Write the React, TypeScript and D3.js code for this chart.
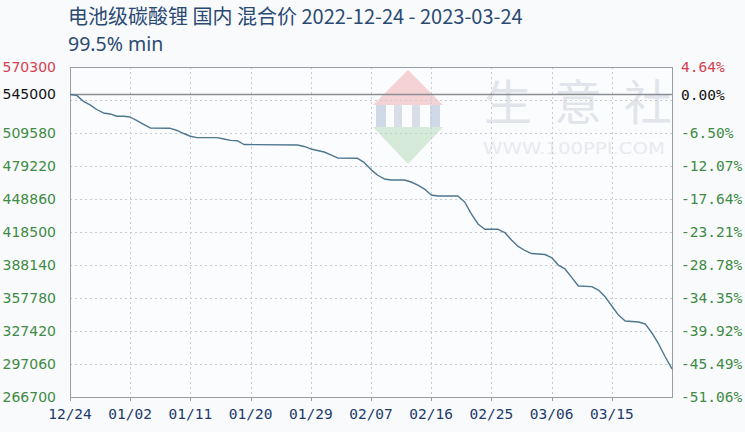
import React from "react";
import * as d3 from "d3";

const title = "电池级碳酸锂 国内 混合价 2022-12-24 - 2023-03-24";
const subtitle = "99.5% min";

const dates = [
  "2022-12-24", "2022-12-25", "2022-12-26", "2022-12-27", "2022-12-28", "2022-12-29", "2022-12-30", "2022-12-31",
  "2023-01-01", "2023-01-02", "2023-01-03", "2023-01-04", "2023-01-05", "2023-01-08", "2023-01-09", "2023-01-10",
  "2023-01-11", "2023-01-12", "2023-01-15", "2023-01-16", "2023-01-17", "2023-01-18", "2023-01-19", "2023-01-27",
  "2023-01-28", "2023-01-29", "2023-01-30", "2023-01-31", "2023-02-01", "2023-02-02", "2023-02-05", "2023-02-06",
  "2023-02-07", "2023-02-08", "2023-02-09", "2023-02-10", "2023-02-12", "2023-02-13", "2023-02-14", "2023-02-15",
  "2023-02-16", "2023-02-17", "2023-02-20", "2023-02-21", "2023-02-22", "2023-02-23", "2023-02-24", "2023-02-26",
  "2023-02-27", "2023-02-28", "2023-03-01", "2023-03-02", "2023-03-03", "2023-03-05", "2023-03-06", "2023-03-07",
  "2023-03-08", "2023-03-09", "2023-03-10", "2023-03-12", "2023-03-13", "2023-03-14", "2023-03-15", "2023-03-16",
  "2023-03-17", "2023-03-19", "2023-03-20", "2023-03-21", "2023-03-22", "2023-03-23", "2023-03-24",
];
const prices = [
  545000, 544200, 538700, 535500, 531200, 528000, 527100, 525000,
  525000, 524300, 520900, 517600, 514200, 513900, 511900, 509100,
  506600, 505300, 505300, 504100, 502800, 502500, 499000, 498500,
  497200, 494900, 493500, 492100, 489400, 486600, 486300, 482300,
  475900, 470700, 467300, 466300, 466300, 464500, 461700, 458000,
  452500, 451600, 451600, 446100, 435100, 425900, 421000, 421000,
  418000, 411100, 405200, 401500, 398700, 397800, 395000, 388100,
  384500, 376700, 368800, 368200, 365100, 359000, 350400, 342100,
  336600, 335700, 333900, 325600, 315500, 303500, 292500,
];

const baseValue = 545000;
const yMax = 570300;
const yMin = 266700;
const yStep = 30360;
const yLabelValues = [570300, 545000, 509580, 479220, 448860, 418500, 388140, 357780, 327420, 297060, 266700];
const xTickLabels = ["12/24", "01/02", "01/11", "01/20", "01/29", "02/07", "02/16", "02/25", "03/06", "03/15"];
const xStart = "2022-12-24";
const xEnd = "2023-03-24";

const W = 745;
const H = 432;
const M = { left: 70, right: 73, top: 67, bottom: 35 };

export default function App() {
  const parse = d3.timeParse("%Y-%m-%d");
  const data = dates.map((d, i) => ({ date: parse(d) as Date, value: prices[i] }));
  const x = d3
    .scaleTime()
    .domain([parse(xStart) as Date, parse(xEnd) as Date])
    .range([M.left, W - M.right]);
  const y = d3.scaleLinear().domain([yMin, yMax]).range([H - M.bottom, M.top]);

  const gridValues = d3.range(0, 11).map((k) => yMin + k * yStep);
  const xTickDates = d3.range(0, xTickLabels.length).map((k) => d3.timeDay.offset(parse(xStart) as Date, k * 9));

  const line = d3
    .line<{ date: Date; value: number }>()
    .x((d) => x(d.date))
    .y((d) => y(d.value));

  const pct = (v: number) => ((v / baseValue - 1) * 100).toFixed(2) + "%";
  const colorFor = (v: number) => (v > baseValue ? "#d6404e" : v === baseValue ? "#111" : "#3f8a44");

  const x0 = M.left;
  const x1 = W - M.right;
  const y0 = M.top;
  const y1 = H - M.bottom;

  // watermark geometry
  const cx = 408;
  const dTop = 70;
  const dBot = 164;
  const dHalf = 35;
  const dMid = (dTop + dBot) / 2;

  return (
    <svg
      width={W}
      height={H}
      style={{ position: "absolute", left: 0, top: 0, display: "block", background: "#f8fafc" }}
    >
      <rect x={0} y={0} width={W} height={H} fill="#f8fafc" />
      <text x={68} y={24} fontFamily="'Noto Sans CJK SC', 'Noto Sans', sans-serif" fontSize={20} fill="#2b4a72">
        {title}
      </text>
      <text x={68} y={51} fontFamily="'Noto Sans', 'Noto Sans CJK SC', sans-serif" fontSize={19.5} fill="#2b4a72">
        {subtitle}
      </text>

      <rect x={x0} y={y0} width={x1 - x0} height={y1 - y0} fill="#fbfcfe" />

      {/* watermark */}
      <g opacity={0.9}>
        <path d={`M${cx},${dTop} L${cx + dHalf},${dMid - 12} L${cx - dHalf},${dMid - 12} Z`} fill="#f5cfd0" />
        <path d={`M${cx - dHalf},${dMid + 10} L${cx + dHalf},${dMid + 10} L${cx},${dBot} Z`} fill="#d3e9d6" />
        <rect x={cx - 32} y={dMid - 12} width={10} height={22} fill="#ccd6e6" />
        <rect x={cx - 14} y={dMid - 12} width={8} height={22} fill="#d5dbe6" />
        <rect x={cx + 4} y={dMid - 12} width={8} height={22} fill="#d5dbe6" />
        <rect x={cx + 22} y={dMid - 12} width={10} height={22} fill="#ccd6e6" />
        {["生", "意", "社"].map((c, i) => (
          <text
            key={c}
            x={508 + i * 70}
            y={120}
            textAnchor="middle"
            fontFamily="'Noto Sans CJK SC', sans-serif"
            fontSize={48}
            fill="#dfe3ea"
          >
            {c}
          </text>
        ))}
        <text
          x={483}
          y={154}
          fontFamily="'DejaVu Sans', sans-serif"
          fontSize={16}
          fill="#e6e9ee"
          textLength={182}
          lengthAdjust="spacingAndGlyphs"
        >
          WWW.100PPI.COM
        </text>
      </g>

      {/* horizontal grid */}
      {gridValues.map((v) => (
        <line
          key={"h" + v}
          x1={x0}
          x2={x1}
          y1={Math.round(y(v)) + 0.5}
          y2={Math.round(y(v)) + 0.5}
          stroke="#c8ccd2"
          strokeWidth={1}
          strokeDasharray="2,3"
        />
      ))}
      {/* vertical grid */}
      {xTickDates.slice(1).map((d, i) => (
        <line
          key={"v" + i}
          x1={Math.round(x(d)) + 0.5}
          x2={Math.round(x(d)) + 0.5}
          y1={y0}
          y2={y1}
          stroke="#c8ccd2"
          strokeWidth={1}
          strokeDasharray="2,3"
        />
      ))}

      {/* base line */}
      <line x1={x0} x2={x1} y1={y(baseValue)} y2={y(baseValue)} stroke="#8a8e94" strokeWidth={1.3} />

      {/* border */}
      <rect x={x0 + 0.5} y={y0 + 0.5} width={x1 - x0} height={y1 - y0} fill="none" stroke="#9a9ea4" strokeWidth={1} />

      {/* bottom ticks */}
      {xTickDates.map((d, i) => (
        <line
          key={"bt" + i}
          x1={Math.round(x(d)) + 0.5}
          x2={Math.round(x(d)) + 0.5}
          y1={y1}
          y2={y1 + 4}
          stroke="#9a9ea4"
        />
      ))}

      {/* data line */}
      <path d={line(data) || ""} fill="none" stroke="#4d7690" strokeWidth={1.4} strokeLinejoin="round" />

      {/* left labels */}
      {yLabelValues.map((v) => (
        <text
          key={"l" + v}
          x={56}
          y={y(v)}
          dy="0.35em"
          textAnchor="end"
          fontFamily="'DejaVu Sans', sans-serif"
          fontSize={14}
          fill={colorFor(v)}
        >
          {v}
        </text>
      ))}
      {/* right labels */}
      {yLabelValues.map((v) => (
        <text
          key={"r" + v}
          x={681}
          y={y(v)}
          dy="0.35em"
          fontFamily="'DejaVu Sans Mono', monospace"
          fontSize={14.5}
          fill={colorFor(v)}
        >
          {pct(v)}
        </text>
      ))}
      {/* x labels */}
      {xTickDates.map((d, i) => (
        <text
          key={"x" + i}
          x={x(d)}
          y={419}
          textAnchor="middle"
          fontFamily="'DejaVu Sans Mono', monospace"
          fontSize={14.5}
          fill="#1d3a6a"
        >
          {xTickLabels[i]}
        </text>
      ))}
    </svg>
  );
}
